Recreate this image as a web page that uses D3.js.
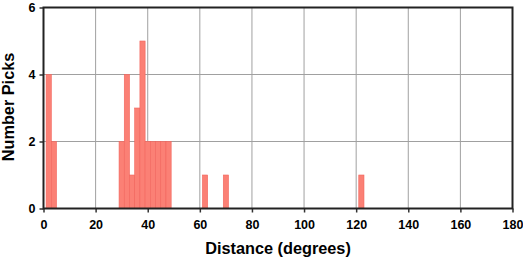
<!DOCTYPE html>
<html><head><meta charset="utf-8">
<script src="https://cdn.jsdelivr.net/npm/d3@7"></script>
<style>body{margin:0;background:#fff}svg{display:block}text{font-family:"Liberation Sans",Arial,sans-serif;font-weight:bold;fill:#000}</style>
</head><body>
<script>
const binStarts = [1,3,29,31,33,35,37,39,41,43,45,47,61,69,121];
const counts    = [4,2,2,4,1,3,5,2,2,2,2,2,1,1,1];
const binWidth = 2;
const xTicks = [0,20,40,60,80,100,120,140,160,180];
const yTicks = [0,2,4,6];

const W=523,H=258;
const svg=d3.select("body").append("svg").attr("width",W).attr("height",H);
const L=43.5,R=512.5,T=7.5,B=208.5;
const x=d3.scaleLinear().domain([0,180]).range([L,R]);
const y=d3.scaleLinear().domain([0,6]).range([B,T]);

// grid
svg.append("g").selectAll("line").data(xTicks).join("line")
  .attr("x1",d=>x(d)).attr("x2",d=>x(d)).attr("y1",T).attr("y2",B)
  .attr("stroke","#a0a0a0").attr("stroke-width",1);
svg.append("g").selectAll("line").data(yTicks).join("line")
  .attr("y1",d=>y(d)).attr("y2",d=>y(d)).attr("x1",L).attr("x2",R)
  .attr("stroke","#a0a0a0").attr("stroke-width",1);

// bars
svg.append("g").selectAll("rect").data(binStarts).join("rect")
  .attr("x",(d)=>x(d)).attr("width",d=>x(d+binWidth)-x(d))
  .attr("y",(d,i)=>y(counts[i])).attr("height",(d,i)=>y(0)-y(counts[i]))
  .attr("fill","#fb8075").attr("stroke","#f2645c").attr("stroke-width",0.6);

// axes
const xa=svg.append("g").attr("transform",`translate(0,${B})`)
  .call(d3.axisBottom(x).tickValues(xTicks).tickSize(4).tickPadding(7.5).tickFormat(d3.format("d")));
const ya=svg.append("g").attr("transform",`translate(${L},0)`)
  .call(d3.axisLeft(y).tickValues(yTicks).tickSize(4).tickPadding(4).tickFormat(d3.format("d")));
[xa,ya].forEach(a=>{a.select(".domain").remove();a.selectAll("text").attr("font-size",12.5).attr("font-family","Liberation Sans, Arial, sans-serif").attr("font-weight","bold");a.selectAll("line").attr("stroke","#333").attr("stroke-width",1.5);});

// frame
svg.append("rect").attr("x",L).attr("y",T).attr("width",R-L).attr("height",B-T)
  .attr("fill","none").attr("stroke","#222").attr("stroke-width",2);

svg.append("text").attr("x",(L+R)/2).attr("y",254).attr("text-anchor","middle")
  .attr("font-size",16.3).text("Distance (degrees)");
svg.append("text").attr("transform",`translate(13.5,107) rotate(-90)`).attr("text-anchor","middle")
  .attr("font-size",16.3).text("Number Picks");
</script>
</body></html>
